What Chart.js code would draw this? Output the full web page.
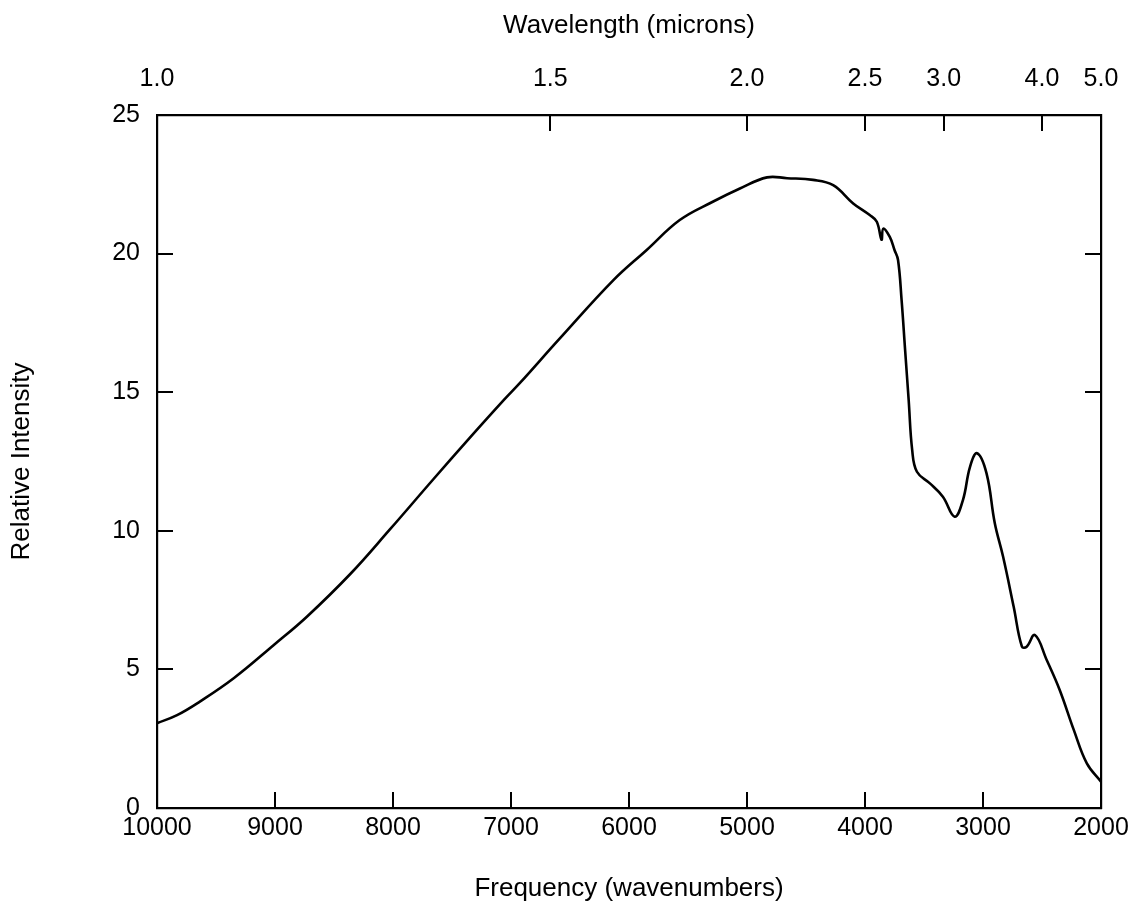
<!DOCTYPE html>
<html lang="en">
<head>
  <meta charset="UTF-8">
  <title>Relative Intensity vs Frequency</title>
  <script src="https://cdn.jsdelivr.net/npm/chart.js"></script>
  <style>
    body { margin: 0; background: #fff; }
    canvas { display: block; }
  </style>
</head>
<body>
  <canvas id="spectrum" width="1133" height="902"></canvas>

  <script>
    // spectrum trace, wavenumbers (cm-1) from high to low
    const wavenumbers = [
      10000, 9830, 9640, 9350, 9010, 8730, 8360, 8030, 7660, 7350,
      7060, 6920, 6590, 6130, 5850, 5570, 5290, 5060, 4830, 4660,
      4440, 4270, 4100, 3960, 3900, 3860, 3845, 3790, 3750, 3720,
      3690, 3660, 3630, 3600, 3560, 3450, 3340, 3240, 3170, 3110,
      3050, 2970, 2900, 2830, 2740, 2670, 2630, 2560, 2460, 2350,
      2230, 2120, 2000
    ];
    const intensity = [
      3.06, 3.35, 3.83, 4.68, 5.88, 6.90, 8.45, 10.03, 11.85, 13.35,
      14.72, 15.35, 16.92, 19.05, 20.13, 21.21, 21.87, 22.35, 22.75, 22.72,
      22.66, 22.47, 21.81, 21.39, 21.15, 20.50, 20.90, 20.60, 20.13, 19.77,
      18.33, 16.52, 14.72, 12.91, 12.13, 11.71, 11.23, 10.51, 11.11, 12.31,
      12.80, 12.07, 10.27, 9.07, 7.26, 5.82, 5.82, 6.24, 5.34, 4.26,
      2.81, 1.61, 0.95
    ];

    // axis ticks
    const freqTicks = [10000, 9000, 8000, 7000, 6000, 5000, 4000, 3000, 2000];
    const intensityTicks = [0, 5, 10, 15, 20, 25];
    const wavelengthTicks = [1.0, 1.5, 2.0, 2.5, 3.0, 4.0, 5.0];

    const FONT = "'Liberation Sans', Arial, Helvetica, sans-serif";
    const TICK = 16;

    // tick marks drawn inside the frame on all four sides
    const innerTicks = {
      id: 'innerTicks',
      afterDraw(chart) {
        const { ctx, chartArea: a, scales } = chart;
        ctx.save();
        ctx.strokeStyle = '#000';
        ctx.lineWidth = 2;
        ctx.beginPath();
        intensityTicks.slice(1, -1).forEach(v => {
          const py = Math.round(scales.y.getPixelForValue(v));
          ctx.moveTo(a.left, py); ctx.lineTo(a.left + TICK, py);
          ctx.moveTo(a.right, py); ctx.lineTo(a.right - TICK, py);
        });
        freqTicks.slice(1, -1).forEach(v => {
          const px = Math.round(scales.x.getPixelForValue(v));
          ctx.moveTo(px, a.bottom); ctx.lineTo(px, a.bottom - TICK);
        });
        wavelengthTicks.slice(1, -1).forEach(w => {
          const px = Math.round(scales.x2.getPixelForValue(10000 / w));
          ctx.moveTo(px, a.top); ctx.lineTo(px, a.top + TICK);
        });
        ctx.stroke();
        ctx.restore();
      }
    };

    // fixed axis sizes, no extra room for overhanging labels
    const fixHeight = h => s => {
      s.height = h;
      s.paddingLeft = 0; s.paddingRight = 0;
    };
    const fixWidth = w => s => {
      s.width = w;
      s.paddingTop = 0; s.paddingBottom = 0;
    };

    const tickFont = { family: FONT, size: 25, lineHeight: 1.2 };
    const titleFont = { family: FONT, size: 26, lineHeight: 1 };
    const axisBorder = { display: true, color: '#000', width: 2.2 };

    new Chart(document.getElementById('spectrum'), {
      type: 'line',
      data: {
        datasets: [{
          data: wavenumbers.map((w, i) => ({ x: w, y: intensity[i] })),
          borderColor: '#000',
          borderWidth: 2.6,
          pointRadius: 0,
          fill: false,
          tension: 0.4
        }]
      },
      options: {
        responsive: false,
        animation: false,
        events: [],
        layout: { padding: 0 },
        plugins: { legend: { display: false }, tooltip: { enabled: false } },
        scales: {
          x: {
            type: 'linear',
            position: 'bottom',
            reverse: true,
            min: 2000,
            max: 10000,
            afterBuildTicks: s => { s.ticks = freqTicks.map(v => ({ value: v })); },
            afterFit: fixHeight(94),
            grid: { display: false, drawTicks: false },
            border: axisBorder,
            ticks: {
              color: '#000', font: tickFont, padding: 5,
              autoSkip: false, maxRotation: 0,
              callback: v => String(v)
            },
            title: {
              display: true, text: 'Frequency (wavenumbers)',
              color: '#000', font: titleFont, padding: { top: 0, bottom: 0 }
            }
          },
          x2: {
            type: 'linear',
            position: 'top',
            reverse: true,
            min: 2000,
            max: 10000,
            afterBuildTicks: s => { s.ticks = wavelengthTicks.map(w => ({ value: 10000 / w })); },
            afterFit: fixHeight(115),
            grid: { display: false, drawTicks: false },
            border: axisBorder,
            ticks: {
              color: '#000', font: tickFont, padding: 21,
              autoSkip: false, maxRotation: 0,
              callback: v => (10000 / v).toFixed(1)
            },
            title: {
              display: true, text: 'Wavelength (microns)',
              color: '#000', font: titleFont, padding: { top: 13, bottom: 0 }
            }
          },
          y: {
            type: 'linear',
            position: 'left',
            min: 0,
            max: 25,
            afterBuildTicks: s => { s.ticks = intensityTicks.map(v => ({ value: v })); },
            afterFit: fixWidth(157),
            grid: { display: false, drawTicks: false },
            border: axisBorder,
            ticks: { color: '#000', font: tickFont, padding: 17 },
            title: {
              display: true, text: 'Relative Intensity',
              color: '#000', font: titleFont, padding: { top: 9, bottom: 0 }
            }
          },
          y2: {
            type: 'linear',
            position: 'right',
            min: 0,
            max: 25,
            afterFit: fixWidth(32),
            grid: { display: false, drawTicks: false },
            border: axisBorder,
            ticks: { display: false }
          }
        }
      },
      plugins: [innerTicks]
    });
  </script>
</body>
</html>
